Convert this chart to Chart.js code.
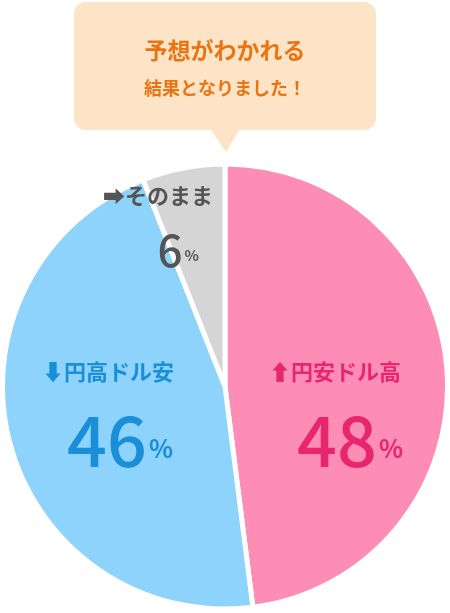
<!DOCTYPE html>
<html><head><meta charset="utf-8">
<script src="https://cdn.jsdelivr.net/npm/chart.js@4"></script>
<style>html,body{margin:0;padding:0;background:#fff}#wrap{width:450px;height:613px;position:relative}</style>
</head><body>
<div id="wrap"><canvas id="myChart" width="450" height="613"></canvas></div>
<script>
var categories = ['円安ドル高', '円高ドル安', 'そのまま'];
var values = [48, 46, 6];
var arrows = ['⬆', '⬇', '➡'];
var sliceColors = ['#fd8db5', '#8dd3fb', '#d5d5d5'];
var textColors = ['#e8266e', '#1a8fd8', '#555555'];
var FONT = '"Noto Sans CJK JP", sans-serif';

var overlay = {
    id: 'overlay',
    afterDraw: function(chart) {
        var ctx = chart.ctx;
        ctx.save();
        // callout
        ctx.fillStyle = '#fde4c6';
        ctx.beginPath();
        ctx.roundRect(74, 2, 302, 128, 12);
        ctx.fill();
        ctx.beginPath();
        ctx.moveTo(210, 129); ctx.lineTo(240, 129); ctx.lineTo(226, 152);
        ctx.closePath(); ctx.fill();
        ctx.fillStyle = '#ea7414';
        ctx.textAlign = 'center';
        ctx.textBaseline = 'middle';
        ctx.font = 'bold 23px ' + FONT;
        ctx.fillText('予想がわかれる', 225, 50);
        ctx.font = 'bold 18px ' + FONT;
        ctx.fillText('結果となりました！', 225, 88);

        var pos = [[335, 372, 345, 440, 70], [108, 372, 115, 440, 70], [158, 196, 178, 250, 44]];
        for (var i = 0; i < categories.length; i++) {
            var p = pos[i];
            ctx.fillStyle = textColors[i];
            ctx.font = 'bold 22px ' + FONT;
            ctx.fillText(arrows[i] + categories[i], p[0], p[1]);
            ctx.font = '500 ' + p[4] + 'px ' + FONT;
            var num = String(values[i]);
            var w = ctx.measureText(num).width;
            ctx.textAlign = 'right';
            ctx.fillText(num, p[2] + w / 2 - 8, p[3]);
            ctx.textAlign = 'left';
            ctx.font = 'bold ' + Math.round(p[4] * 0.35) + 'px ' + FONT;
            ctx.fillText('%', p[2] + w / 2 - 6, p[3] + p[4] * 0.12);
            ctx.textAlign = 'center';
        }
        ctx.restore();
    }
};

new Chart(document.getElementById('myChart'), {
    type: 'pie',
    data: {
        labels: categories,
        datasets: [{
            data: values,
            backgroundColor: sliceColors,
            borderColor: '#ffffff',
            borderWidth: 5
        }]
    },
    options: {
        responsive: false,
        animation: false,
        layout: { padding: { top: 160, left: 0, right: 0, bottom: 0 } },
        plugins: { legend: { display: false }, tooltip: { enabled: false } }
    },
    plugins: [overlay]
});
</script>
</body></html>
